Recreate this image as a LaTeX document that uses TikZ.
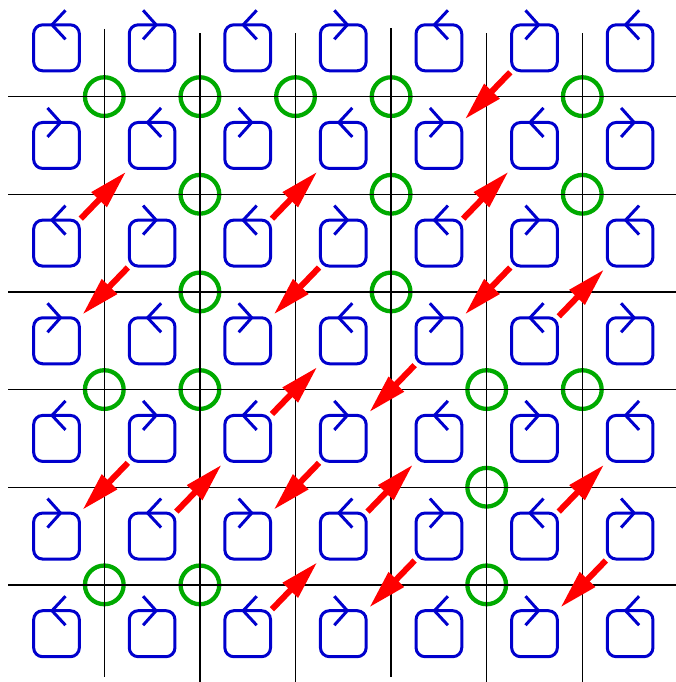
\documentclass[tikz,border=0pt]{standalone}
\usetikzlibrary{arrows.meta,calc}
\definecolor{loopblue}{RGB}{0,0,205}
\definecolor{spotgreen}{RGB}{0,170,0}
\definecolor{arrowred}{RGB}{255,0,0}
\tikzset{
  loopbox/.style={shape=rectangle, draw=loopblue, line width=3pt, rounded corners=9pt,
    minimum width=45.7pt, minimum height=46pt, inner sep=0pt, outer sep=0pt},
  chev/.style={draw=loopblue, line width=3pt},
  gridline/.style={draw=black, line width=1.3pt},
  spot/.style={shape=circle, draw=spotgreen, line width=4.3pt, minimum size=38.7pt, inner sep=0pt},
  flux/.style={draw=arrowred, line width=6pt, -{Triangle[length=39pt,width=20pt]},
    shorten <=2pt, shorten >=4.5pt},
}
\begin{document}
\begin{tikzpicture}[x=1pt,y=-1pt]
  \useasboundingbox (0,0) rectangle (676,682);
  % intersections
  \foreach \i in {0,...,5} {
    \foreach \j in {0,...,5} {
      \coordinate (p-\i-\j) at ({104.3+95.6*\i},{96.625+97.65*\j});
    }
  }
  % green circles
  \foreach \i/\j in {0/0,1/0,2/0,3/0,5/0, 1/1,3/1,5/1, 1/2,3/2, 0/3,1/3,4/3,5/3, 4/4, 0/5,1/5,4/5} {
    \node[spot] (s-\i-\j) at (p-\i-\j) {};
  }
  % grid lines
  \foreach \i/\t/\b in {0/29/676.7, 1/33.3/682, 2/33.3/682, 3/28.3/676.7, 4/33.3/682, 5/33.3/682} {
    \draw[gridline] ($(p-\i-0)+(0,{\t-96.625})$) -- ($(p-\i-0)+(0,{\b-96.625})$);
  }
  \foreach \j in {0,...,5} {
    \draw[gridline] ($(p-0-\j)+(-96,0)$) -- ($(p-0-\j)+(571.7,0)$);
  }
  % loops
  \foreach \r in {0,...,6} {
    \foreach \c in {0,...,6} {
      \node[loopbox] (c-\r-\c) at ({56.5+95.6*\c},{47.8+97.65*\r}) {};
      \pgfmathtruncatemacro\parity{mod(\r+\c,2)}
      \ifnum\parity=0
        \draw[chev] ($(c-\r-\c.north)+(9,-14.5)$) -- ($(c-\r-\c.north)+(-4.5,0)$) -- ($(c-\r-\c.north)+(9,14.5)$);
      \else
        \draw[chev] ($(c-\r-\c.north)+(-9,-14.5)$) -- ($(c-\r-\c.north)+(4,0)$) -- ($(c-\r-\c.north)+(-9,14.5)$);
      \fi
    }
  }
  % red arrows, lower-left to upper-right
  \foreach \i/\j in {0/1,2/1,4/1,5/2,2/3,1/4,3/4,5/4,2/5} {
    \pgfmathtruncatemacro\jj{\j+1}
    \pgfmathtruncatemacro\ii{\i+1}
    \draw[flux] (c-\jj-\i.north east) -- (c-\j-\ii.south west);
  }
  % red arrows, upper-right to lower-left
  \foreach \i/\j in {4/0,0/2,2/2,4/2,3/3,0/4,2/4,3/5,5/5} {
    \pgfmathtruncatemacro\jj{\j+1}
    \pgfmathtruncatemacro\ii{\i+1}
    \draw[flux] (c-\j-\ii.south west) -- (c-\jj-\i.north east);
  }
\end{tikzpicture}
\end{document}
